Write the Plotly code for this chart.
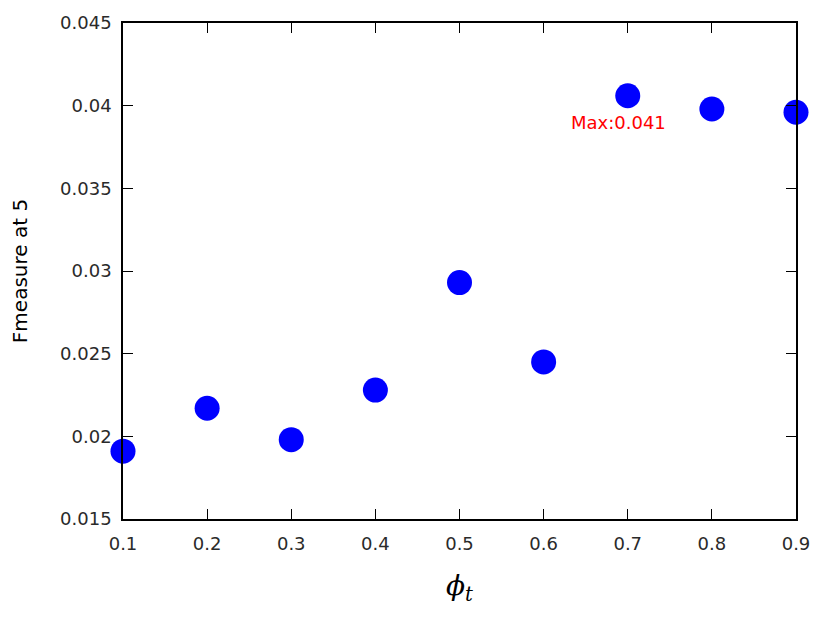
import plotly.graph_objects as go

phi_t = [0.1, 0.2, 0.3, 0.4, 0.5, 0.6, 0.7, 0.8, 0.9]
fmeasure = [0.0191, 0.0217, 0.0198, 0.0228, 0.0293, 0.0245, 0.0406, 0.0398, 0.0396]
max_label = "Max:0.041"

fig = go.Figure()
fig.add_trace(go.Scatter(
    x=phi_t, y=fmeasure, mode="markers",
    marker=dict(color="#0000ff", size=25, line=dict(width=0)),
    cliponaxis=False, showlegend=False,
))

i_max = fmeasure.index(max(fmeasure))
fig.add_annotation(
    x=phi_t[i_max], y=fmeasure[i_max], text=max_label, showarrow=False,
    xshift=-9, yshift=-27, font=dict(color="red", size=18, family="DejaVu Sans"),
)

axis_common = dict(
    showgrid=False, zeroline=False, showline=True, linecolor="black", linewidth=1.5,
    mirror="allticks", ticks="inside", ticklen=10, tickcolor="black", tickwidth=1,
    tickfont=dict(family="DejaVu Sans", size=18, color="#2a2a2a"),
    automargin=False,
)

# page body has an 8px margin, so the figure is a bit smaller than the window
fig.update_layout(
    width=814, height=607,
    margin=dict(l=115, r=26, t=15, b=96),
    plot_bgcolor="white", paper_bgcolor="white",
    xaxis=dict(range=[0.1, 0.9], dtick=0.1, tickformat=".1f", ticklabelstandoff=8,
               title=dict(text="<i>ϕ</i><sub><i>t</i></sub>",
                          font=dict(family="DejaVu Serif", size=28, color="black"),
                          standoff=22),
               **axis_common),
    yaxis=dict(range=[0.015, 0.045], dtick=0.005, tickformat="~g", ticklabelstandoff=6,
               title=dict(text="Fmeasure at 5",
                          font=dict(family="DejaVu Sans", size=20, color="black"),
                          standoff=31),
               **axis_common),
)

fig.write_html("out.html")
